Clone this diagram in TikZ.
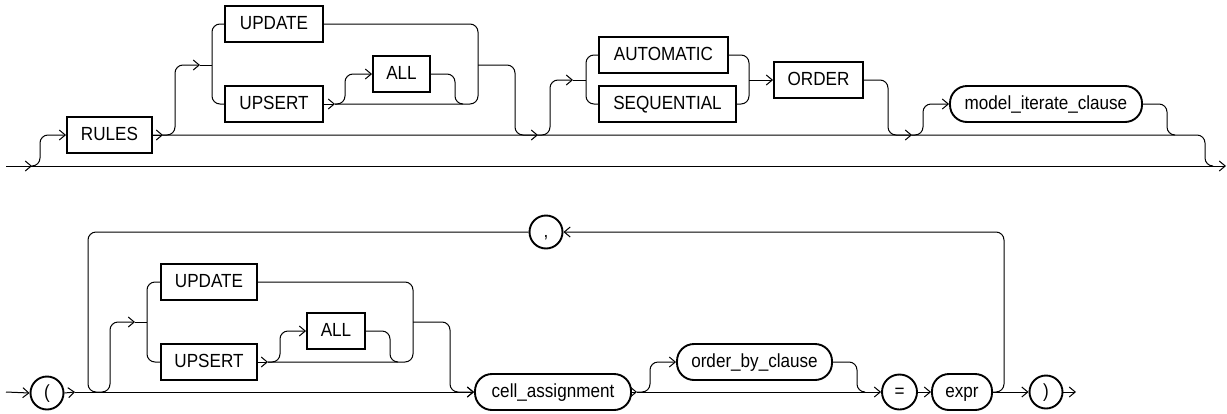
\documentclass[tikz,border=0pt]{standalone}
\usepackage{fontspec}
\setmainfont{Liberation Sans}[FakeStretch=0.9]
\usetikzlibrary{arrows.meta}
\begin{document}
\begin{tikzpicture}[x=1pt,y=-1pt,
  line width=1pt,
  kw/.style={draw,line width=1.9pt,inner sep=0pt,minimum height=36pt,text height=14pt,text depth=4pt,font=\fontsize{19}{22}\selectfont},
  nt/.style={kw,rounded corners=17pt},
  ci/.style={draw,line width=1.9pt,circle,inner sep=0pt,minimum size=33pt,text height=14pt,text depth=4pt,font=\fontsize{19}{22}\selectfont},
  ln/.style={line width=1pt,rounded corners=8pt},
  ar/.style={ln,-{Straight Barb[length=6pt,width=10pt]}},
]
\useasboundingbox (0,0) rectangle (1227,413);

% ---------- top row nodes ----------
\node[kw,minimum width=85pt] (rules) at (109.5,135) {RULES};
\node[kw,minimum width=98pt] (upd1) at (274,24) {UPDATE};
\node[kw,minimum width=98pt] (ups1) at (274,104) {UPSERT};
\node[kw,minimum width=57pt] (all1) at (401.5,74) {ALL};
\node[kw,minimum width=129pt] (auto) at (663.5,55) {AUTOMATIC};
\node[kw,minimum width=137pt] (seq) at (667.5,104) {SEQUENTIAL};
\node[kw,minimum width=89pt] (order) at (818.5,80) {ORDER};
\node[nt,minimum width=192pt] (mic) at (1046,104) {model\_iterate\_clause};

% ---------- top row connectors ----------
\coordinate (s0) at (6,166);
\coordinate (e0) at (1226,166);
\draw[ar] (s0) -- (e0);
\draw[ar] (s0) -- (32,166);
\draw[ar] (32,166) -- (40,166) -- (40,135) -- (rules.west);
\draw[ar] (rules.east) -- (163,135);
\draw[ln] (rules.east) -- (1205,135) -- (1205,166) -- (1213,166);
\draw[ar] (163,135) -- (175,135) -- (175,65) -- (200,65);
\draw[ln] (200,65) -- (212,65);
\draw[ln] (upd1.west) -- (212,24) -- (212,104) -- (ups1.west);
\draw[ar] (ups1.east) -- (335,104);
\draw[ar] (335,104) -- (345,104) -- (345,74) -- (all1.west);
\draw[ln] (all1.east) -- (455,74) -- (455,104) -- (463,104);
\draw[ln] (335,104) -- (478,104) -- (478,24) -- (upd1.east);
\draw[ar] (478,65) -- (515,65) -- (515,135) -- (538,135);
\draw[ar] (538,135) -- (550,135) -- (550,80) -- (573,80);
\draw[ln] (573,80) -- (586,80);
\draw[ln] (auto.west) -- (586,55) -- (586,104) -- (seq.west);
\draw[ln] (auto.east) -- (749,55) -- (749,104) -- (seq.east);
\draw[ar] (749,80) -- (order.west);
\draw[ar] (order.east) -- (888,80) -- (888,135) -- (912,135);
\draw[ar] (912,135) -- (923,135) -- (923,104) -- (mic.west);
\draw[ln] (mic.east) -- (1167,104) -- (1167,135) -- (1175,135);

% ---------- bottom row nodes ----------
\node[ci] (lp) at (47,393) {(};
\node[ci] (comma) at (546,232) {,};
\node[kw,minimum width=96pt] (upd2) at (209,282) {UPDATE};
\node[kw,minimum width=96pt] (ups2) at (209,362) {UPSERT};
\node[kw,minimum width=58pt] (all2) at (336,331) {ALL};
\node[nt,minimum width=156pt] (cell) at (553,392) {cell\_assignment};
\node[nt,minimum width=155pt] (obc) at (754.5,362) {order\_by\_clause};
\node[ci,minimum size=35pt] (eq) at (899.5,392) {=};
\node[nt,minimum width=60pt] (expr) at (962,392) {expr};
\node[ci] (rp) at (1046,392) {)};

% ---------- bottom row connectors ----------
\coordinate (s1) at (6,392);
\draw[ar] (s1) -- (lp.west);
\draw[ar] (lp.east) -- (75,392);
\draw[ar] (75,392) -- (cell.west);
\draw[ln] (comma.west) -- (88,232) -- (88,392) -- (96,392);
\draw[ar] (96,392) -- (110,392) -- (110,322) -- (135,322);
\draw[ln] (135,322) -- (147,322);
\draw[ln] (upd2.west) -- (147,282) -- (147,362) -- (ups2.west);
\draw[ar] (ups2.east) -- (268,362);
\draw[ar] (268,362) -- (280,362) -- (280,331) -- (all2.west);
\draw[ln] (all2.east) -- (390,331) -- (390,362) -- (398,362);
\draw[ln] (268,362) -- (413,362) -- (413,282) -- (upd2.east);
\draw[ar] (413,322) -- (450,322) -- (450,392) -- (cell.west);
\draw[ar] (cell.east) -- (637,392);
\draw[ar] (637,392) -- (650,392) -- (650,362) -- (obc.west);
\draw[ar] (637,392) -- (eq.west);
\draw[ln] (obc.east) -- (857,362) -- (857,392) -- (865,392);
\draw[ar] (eq.east) -- (expr.west);
\draw[ar] (expr.east) -- (rp.west);
\draw[ar] (rp.east) -- (1076,392);
\draw[ar] (expr.east) -- (1004,392) -- (1004,232) -- (comma.east);
\end{tikzpicture}
\end{document}
